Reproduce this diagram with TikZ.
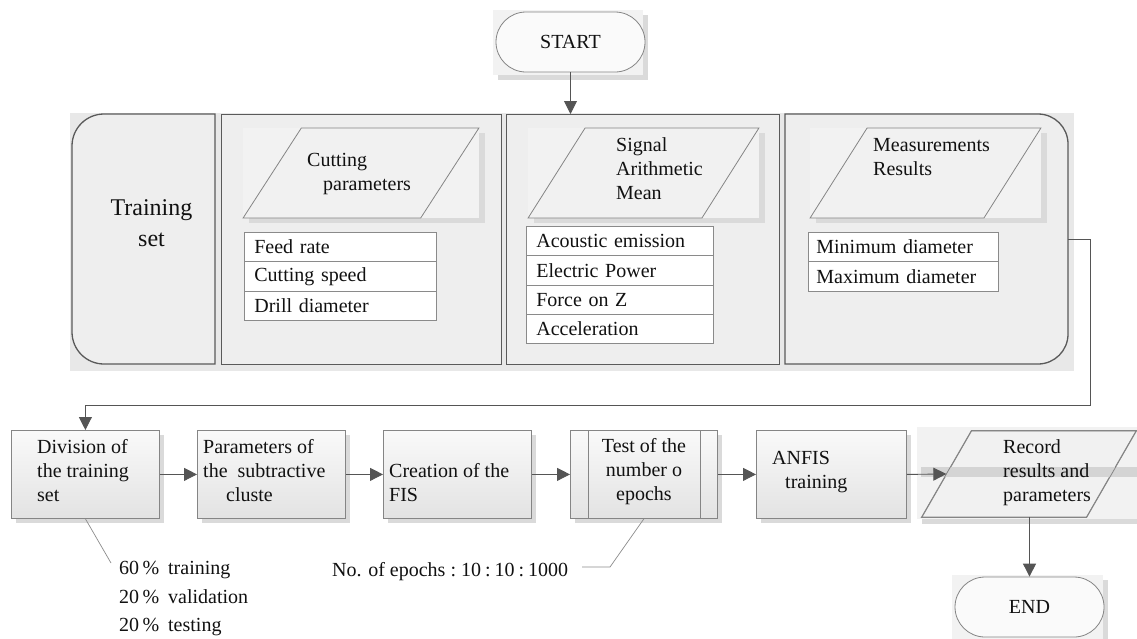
\documentclass[tikz,border=0pt]{standalone}
\usepackage{fontspec}
\setmainfont{Liberation Serif}
\usetikzlibrary{arrows.meta,shapes.geometric,shadows}
\definecolor{panefill}{HTML}{EEEEEE}
\definecolor{paneline}{HTML}{5A5A5A}
\definecolor{shadowc}{HTML}{DADADA}
\definecolor{contshadow}{HTML}{E8E8E8}
\definecolor{bboxc}{HTML}{F2F2F2}
\definecolor{boxfill}{HTML}{F1F1F1}
\definecolor{boxline}{HTML}{858585}
\definecolor{cellline}{HTML}{8A8A8A}
\definecolor{arrowc}{HTML}{555555}
\definecolor{termfill}{HTML}{FAFAFA}
\definecolor{bandc}{HTML}{D4D4D4}
\definecolor{txtc}{HTML}{111111}
\definecolor{notec}{HTML}{8C8C8C}
\begin{document}
\begin{tikzpicture}[x=1pt, y=-1pt, font=\fontsize{20}{24}\selectfont, text=txtc,
  panebox/.style={draw=paneline, line width=1.3pt, fill=panefill},
  stepbox/.style={draw=boxline, line width=0.8pt, top color=boxfill!40!white, bottom color=boxfill!90!black!60!boxfill, minimum height=88pt, inner sep=0pt, anchor=north west,
     drop shadow={shadow xshift=4.5pt, shadow yshift=-4.5pt, fill=shadowc, opacity=1}},
  para/.style={trapezium, trapezium stretches=true, draw=boxline, line width=0.8pt, fill=boxfill, inner sep=3pt, minimum height=90pt},
  term/.style={rectangle, rounded corners=30pt, draw=boxline, line width=0.8pt, fill=termfill, minimum width=149pt, minimum height=60pt, inner sep=0pt},
  cellA/.style={draw=cellline, line width=0.7pt, fill=white, minimum height=29.3pt, inner ysep=0pt, inner xsep=10pt, text width=172pt, align=left, anchor=north west},
  cellB/.style={draw=cellline, line width=0.7pt, fill=white, minimum height=29.3pt, inner ysep=0pt, inner xsep=10pt, text width=167pt, align=left, anchor=north west},
  cellC/.style={draw=cellline, line width=0.7pt, fill=white, minimum height=29.3pt, inner ysep=0pt, inner xsep=8pt, text width=174pt, align=left, anchor=north west},
  txt/.style={inner sep=0pt, align=left, anchor=west},
  arr/.style={draw=arrowc, line width=0.9pt, -{Triangle[length=13pt, width=13pt, fill=arrowc]}},
  note/.style={draw=notec, line width=0.7pt}
]
\useasboundingbox (0,0) rectangle (1137,638);
\fill[white] (0,0) rectangle (1137,638);

% START
\fill[shadowc] (498,15) rectangle (648,80);
\fill[bboxc] (493,10) rectangle (643,75);
\node[term] (start) at (570.5,42) {START};

% container
\fill[contshadow] (70,113) rectangle (1074,371);
\draw[panebox] (215,114) -- (215,364) -- (104,364) .. controls (86.3,364) and (72,349.7) .. (72,332) -- (72,146) .. controls (72,128.3) and (86.3,114) .. (104,114) -- cycle;
\node[inner sep=0pt, minimum width=143pt, minimum height=250pt, anchor=north west] (p1) at (72,114) {};
\node[align=center, inner sep=0pt, font=\fontsize{24}{31}\selectfont] (p1t) at (151.5,223) {Training\\set};

\node[panebox, inner sep=0pt, minimum width=280pt, minimum height=250pt, anchor=north west] (p2) at (221,114) {};
\node[panebox, inner sep=0pt, minimum width=273pt, minimum height=250pt, anchor=north west] (p3) at (506,114) {};

\draw[panebox] (785,114) -- (1038,114) .. controls (1054.6,114) and (1068,127.4) .. (1068,144) -- (1068,334) .. controls (1068,350.6) and (1054.6,364) .. (1038,364) -- (785,364) -- cycle;
\node[inner sep=0pt, minimum width=283pt, minimum height=250pt, anchor=north west] (p4) at (785,114) {};

% parallelograms in panes
\fill[shadowc] (249,133) rectangle (485,223);
\fill[bboxc] (243,128) rectangle (479,218);
\node[para, trapezium left angle=64, trapezium right angle=116, minimum width=236pt] (cp) at (361,173) {};
\node[txt] (cpt) at (307,174) {Cutting\\\hspace*{16pt}parameters};

\fill[shadowc] (534,133) rectangle (765,223);
\fill[bboxc] (528,128) rectangle (759,218);
\node[para, trapezium left angle=64, trapezium right angle=116, minimum width=231pt] (sa) at (643.5,173) {};
\node[txt] (sat) at (616,168.6) {Signal\\Arithmetic\\Mean};

\fill[shadowc] (816,133) rectangle (1047,223);
\fill[bboxc] (810,128) rectangle (1041,218);
\node[para, trapezium left angle=64, trapezium right angle=116, minimum width=231pt] (mr) at (925.5,173) {};
\node[txt] (mrt) at (873,156.7) {Measurements\\Results};

% tables
\node[cellA] (c21) at (244,232) {Feed rate};
\node[cellA] (c22) at (244,261.3) {Cutting speed};
\node[cellA] (c23) at (244,290.6) {Drill diameter};

\node[cellB] (c31) at (526,226) {Acoustic emission};
\node[cellB] (c32) at (526,255.3) {Electric Power};
\node[cellB] (c33) at (526,284.6) {Force on Z};
\node[cellB] (c34) at (526,313.9) {Acceleration};

\node[cellC] (c41) at (808,232) {Minimum diameter};
\node[cellC] (c42) at (808,261.3) {Maximum diameter};

% bottom row
\node[stepbox, minimum width=148pt] (div) at (11,430) {};
\node[txt] (divt) at (37,470.7) {Division of\\the training\\set};

\node[stepbox, minimum width=148pt] (par) at (197,430) {};
\node[txt] (part) at (203,471) {Parameters of\\the\ \ subtractive\\\hspace*{23pt}cluste};

\node[stepbox, minimum width=148pt] (cre) at (383,430) {};
\node[txt] (cret) at (389,482.7) {Creation of the\\FIS};

\node[stepbox, minimum width=147pt] (test) at (570,430) {};
\draw[draw=boxline, line width=0.8pt] ([xshift=18pt]test.north west) -- ([xshift=18pt]test.south west);
\draw[draw=boxline, line width=0.8pt] ([xshift=-17pt]test.north east) -- ([xshift=-17pt]test.south east);
\node[align=center, inner sep=0pt] (testt) at (644,472) {Test of the\\number o\\epochs};

\node[stepbox, minimum width=150pt] (anf) at (756,430) {};
\node[txt] (anft) at (772,472.5) {ANFIS\\\hspace*{13pt}training};

\fill[shadowc] (922,432) rectangle (1142,524);
\fill[bboxc] (917,427) rectangle (1137,519);
\node[para, trapezium left angle=66.7, trapezium right angle=113.3, minimum width=214pt, minimum height=86pt] (rec) at (1029,474) {};
\fill[bandc] (921,467) rectangle (1137,477);
\draw[draw=boxline, line width=0.8pt] (rec.bottom left corner) -- (rec.top left corner) -- (rec.top right corner) -- (rec.bottom right corner) -- cycle;
\node[txt] (rect) at (1003,473) {Record\\results and\\parameters};

\fill[shadowc] (957,580) rectangle (1108,643);
\fill[bboxc] (952,575) rectangle (1103,640);
\node[term] (end) at (1029.5,607) {END};

% connectors
\coordinate (turn) at (1090,405);
\draw[arr] (start.south) -- (start.south |- p3.north);
\draw[arr] (p4.east) -| (turn) -| (div.north);
\draw[arr] (div.east) -- (par.west);
\draw[arr] (par.east) -- (cre.west);
\draw[arr] (cre.east) -- (test.west);
\draw[arr] (test.east) -- (anf.west);
\draw[arr] (anf.east) -- (rec.west);
\draw[arr] (end.north |- rec.south) -- (end.north);

% annotations
\coordinate (a1) at (111,563);
\draw[note] (div.south) -- (a1);
\node[txt, font=\fontsize{20}{28.5}\selectfont] (split) at (119,598.5) {60\,\%\hspace{9pt}training\\20\,\%\hspace{9pt}validation\\20\,\%\hspace{9pt}testing};

\coordinate (a2a) at (610,567);
\coordinate (a2b) at (582,567);
\draw[note] (test.south) -- (a2a) -- (a2b);
\node[txt] (epn) at (332,572) {No. of epochs\hspace{5pt}:\hspace{5pt}10\hspace{4pt}:\hspace{4pt}10\hspace{4pt}:\hspace{4pt}1000};
\end{tikzpicture}
\end{document}
